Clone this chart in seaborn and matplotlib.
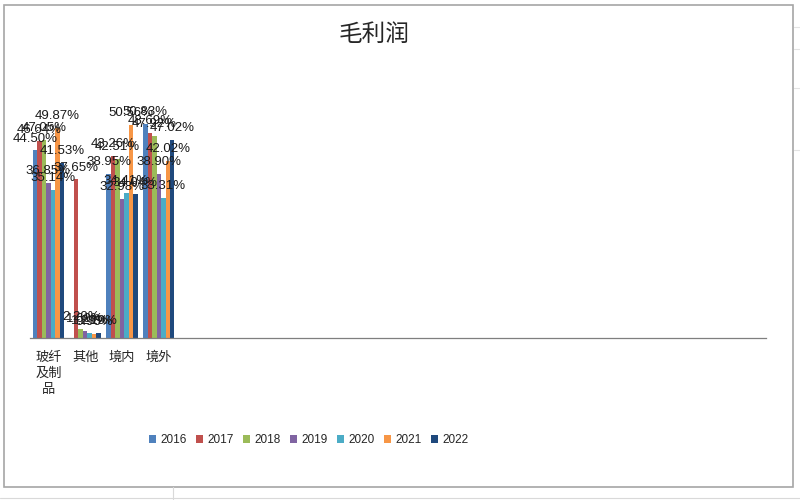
import numpy as np
import pandas as pd
import matplotlib
matplotlib.use("Agg")
import matplotlib.pyplot as plt
import seaborn as sns
from matplotlib.patches import Rectangle

# ---- data (gross margin, %) ----
categories = ["玻纤\n及制\n品", "其他", "境内", "境外"]
years = ["2016", "2017", "2018", "2019", "2020", "2021", "2022"]
v_boxian = [44.50, 46.64, 47.05, 36.85, 35.14, 49.87, 41.53]
v_qita = [np.nan, 37.65, 2.20, 1.69, 1.29, 0.96, 1.19]
v_jingnei = [38.95, 43.26, 42.51, 32.98, 34.41, 50.56, 34.04]
v_jingwai = [50.83, 48.69, 47.92, 38.90, 33.31, 42.02, 47.02]
# the source sheet reserves 16 more (empty) category slots on the axis
empty_slots = [" " * (i + 1) for i in range(16)]

colors = ["#4F81BD", "#C0504D", "#9BBB59", "#8064A2", "#4BACC6", "#F79646", "#1F497D"]

rows = []
for cat, vals in zip(categories, [v_boxian, v_qita, v_jingnei, v_jingwai]):
    for yr, v in zip(years, vals):
        if not np.isnan(v):
            rows.append({"cat": cat, "year": yr, "value": v})
df = pd.DataFrame(rows)

sns.set_style("white")
plt.rcParams["font.family"] = ["Liberation Sans", "Noto Sans CJK SC", "DejaVu Sans"]

fig = plt.figure(figsize=(8, 5), dpi=100)

# excel cell grid behind the chart object
for yy in [27, 49, 88, 150]:
    fig.add_artist(plt.Line2D([0.992, 1.0], [1 - yy / 500, 1 - yy / 500], color="#e3e3e3", lw=0.8))
fig.add_artist(plt.Line2D([0, 1], [0.004, 0.004], color="#d9d9d9", lw=0.8))
fig.add_artist(plt.Line2D([0.216, 0.216], [0, 0.026], color="#d9d9d9", lw=0.8))
fig.add_artist(Rectangle((0.005, 0.026), 0.986, 0.964, transform=fig.transFigure,
                         fill=False, edgecolor="#a6a6a6", lw=1.2))

ax = fig.add_axes([0.0375, 0.324, 0.92, 0.506])
sns.barplot(data=df, x="cat", y="value", hue="year",
            order=categories + empty_slots, hue_order=years,
            palette=colors, width=0.85, gap=0, saturation=1,
            edgecolor="none", ax=ax)

# data labels above every bar
for container in ax.containers:
    labels = [f"{v:.2f}%" for v in container.datavalues]
    ax.bar_label(container, labels=labels, padding=4, fontsize=9.5, color="#1a1a1a")

ax.set_ylim(0, 60)
ax.set_xlim(-0.5, 19.5)
ax.set_xlabel("")
ax.set_ylabel("")
ax.set_yticks([])
ax.tick_params(axis="x", length=0, pad=9)
for lbl in ax.get_xticklabels():
    lbl.set_fontfamily(["Noto Sans CJK SC", "DejaVu Sans"])
    lbl.set_fontsize(9.5)
    lbl.set_linespacing(1.35)
for side in ["top", "right", "left"]:
    ax.spines[side].set_visible(False)
ax.spines["bottom"].set_color("#7f7f7f")
ax.spines["bottom"].set_linewidth(0.9)

fig.text(0.468, 0.932, "毛利润", ha="center", va="center", fontsize=17,
         family=["Noto Sans CJK SC", "DejaVu Sans"])

handles, labs = ax.get_legend_handles_labels()
ax.legend(handles, labs, loc="center", bbox_to_anchor=(0.386, 0.12),
          bbox_transform=fig.transFigure, ncol=7, frameon=False,
          fontsize=8.5, handlelength=0.6, handleheight=0.6,
          handletextpad=0.35, columnspacing=0.8)

fig.savefig("out.png", dpi=100, facecolor="white")
